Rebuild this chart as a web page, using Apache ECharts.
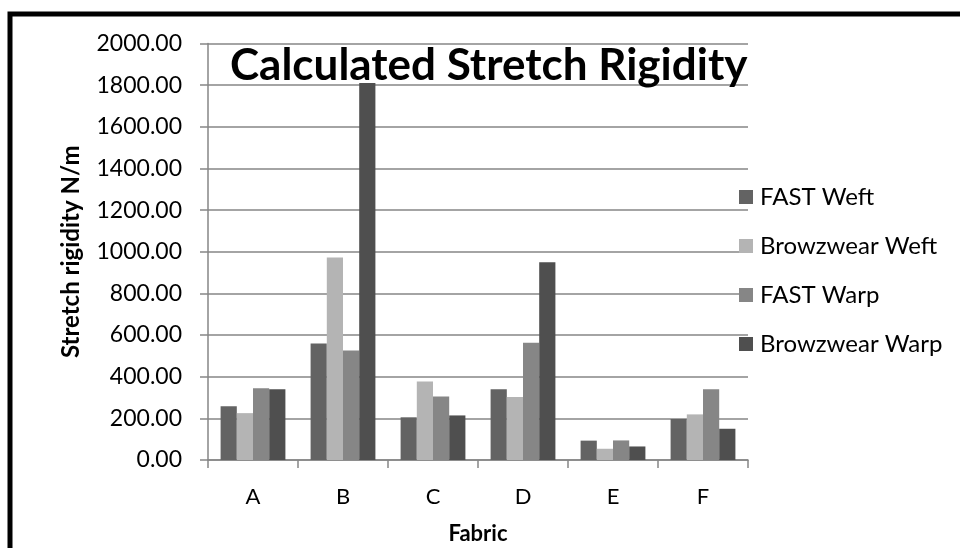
<!DOCTYPE html>
<html>
<head>
<meta charset="utf-8">
<script src="https://cdn.jsdelivr.net/npm/echarts@6/dist/echarts.min.js"></script>
<style>
html,body{margin:0;padding:0;background:#fff;}
#chart{width:960px;height:548px;}
</style>
</head>
<body>
<div id="chart"></div>
<script>
var categories = ['A', 'B', 'C', 'D', 'E', 'F'];
var seriesNames = ['FAST Weft', 'Browzwear Weft', 'FAST Warp', 'Browzwear Warp'];
var fastWeft = [258, 560, 205, 340, 93, 197];
var browzwearWeft = [225, 972, 377, 302, 54, 219];
var fastWarp = [345, 526, 305, 563, 94, 340];
var browzwearWarp = [340, 1810, 214, 950, 65, 150];
var yTicks = { min: 0, max: 2000, interval: 200 };

var colors = ['#636363', '#b4b4b4', '#868686', '#4f4f4f'];
var allData = [fastWeft, browzwearWeft, fastWarp, browzwearWarp];
var FONT = 'Lato';

var chart = echarts.init(document.getElementById('chart'), null, { renderer: 'canvas' });
var option = {
  backgroundColor: '#ffffff',
  animation: false,
  textStyle: { fontFamily: FONT },
  title: {
    text: 'Calculated Stretch Rigidity',
    left: 225,
    top: 39,
    textStyle: { fontFamily: FONT, fontSize: 44, fontWeight: 'bold', color: '#000' }
  },
  graphic: [{
    type: 'rect',
    shape: { x: 10, y: 14, width: 1000, height: 600 },
    style: { fill: 'none', stroke: '#000', lineWidth: 5 },
    z: 100
  }],
  legend: {
    orient: 'vertical',
    left: 734,
    top: 180,
    itemWidth: 14,
    itemHeight: 14,
    itemGap: 25,
    icon: 'rect',
    data: seriesNames,
    textStyle: { fontFamily: FONT, fontSize: 24, color: '#000', lineHeight: 24, padding: [0, 0, 0, 2] }
  },
  grid: { left: 208, right: 212, top: 43.5, bottom: 88, containLabel: false, outerBoundsMode: 'none' },
  xAxis: {
    type: 'category',
    data: categories,
    name: 'Fabric',
    nameLocation: 'middle',
    nameGap: 63,
    nameTextStyle: { fontFamily: FONT, fontSize: 22, fontWeight: 'bold', color: '#000' },
    axisLine: { lineStyle: { color: '#868686', width: 1.5 } },
    axisTick: { show: true, length: 8, lineStyle: { color: '#868686', width: 1.5 } },
    axisLabel: { fontFamily: FONT, fontSize: 22, color: '#000', margin: 26 }
  },
  yAxis: {
    type: 'value',
    min: yTicks.min,
    max: yTicks.max,
    interval: yTicks.interval,
    name: 'Stretch rigidity N/m',
    nameLocation: 'middle',
    nameRotate: 90,
    nameGap: 125,
    nameTextStyle: { fontFamily: FONT, fontSize: 24, fontWeight: 'bold', color: '#000' },
    axisLine: { show: true, lineStyle: { color: '#868686', width: 1.5 } },
    axisTick: { show: true, length: 8, lineStyle: { color: '#868686', width: 1.5 } },
    splitLine: { show: true, lineStyle: { color: '#868686', width: 1.5 } },
    axisLabel: {
      fontFamily: FONT, fontSize: 23, color: '#000', margin: 26,
      formatter: function (v) { return v.toFixed(2); }
    }
  },
  series: seriesNames.map(function (name, i) {
    return {
      name: name,
      type: 'bar',
      data: allData[i],
      barGap: '0%',
      barCategoryGap: '28%',
      itemStyle: { color: colors[i] }
    };
  })
};
chart.setOption(option);
</script>
</body>
</html>
